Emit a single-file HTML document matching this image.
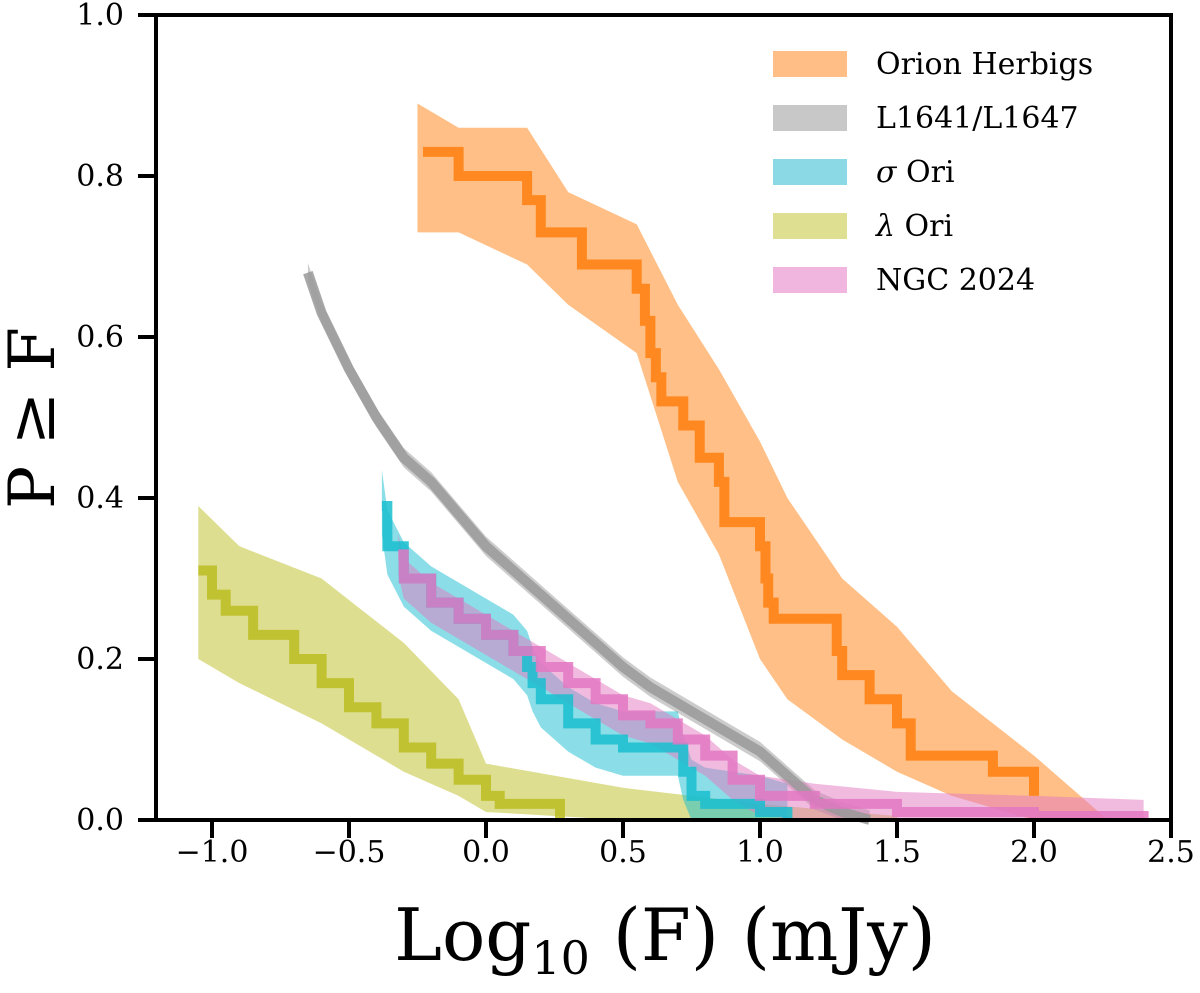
<!DOCTYPE html>
<html><head><meta charset="utf-8">
<style>
html,body{margin:0;padding:0;background:#fff;}
svg text{font-family:"DejaVu Serif","Liberation Serif",serif;}
</style></head>
<body>
<svg id="chart" width="1200" height="988" xmlns="http://www.w3.org/2000/svg">
<g id="bands"></g>
<g id="lines"></g>
<g id="axes"></g>
<g id="legend"></g>
</svg>
<script>
const xTicks=[-1.0,-0.5,0.0,0.5,1.0,1.5,2.0,2.5];
const yTicks=[0.0,0.2,0.4,0.6,0.8,1.0];
const seriesNames=["Orion Herbigs","L1641/L1647","σ Ori","λ Ori","NGC 2024"];
// Orion Herbigs
const orX=[-0.23,-0.1,0.15,0.2,0.35,0.55,0.58,0.6,0.62,0.64,0.72,0.78,0.85,0.87,1.0,1.02,1.03,1.05,1.28,1.3,1.4,1.5,1.55,1.85,2.0];
const orY=[0.83,0.80,0.77,0.73,0.69,0.66,0.62,0.58,0.55,0.52,0.49,0.45,0.42,0.37,0.34,0.30,0.27,0.25,0.21,0.18,0.15,0.12,0.08,0.06,0.03];
const orBX=[-0.25,-0.1,0.15,0.3,0.55,0.7,0.85,1.0,1.1,1.3,1.5,1.7,2.0,2.27];
const orUp=[0.89,0.86,0.86,0.78,0.74,0.64,0.56,0.47,0.40,0.30,0.24,0.16,0.08,0.0];
const orLo=[0.73,0.73,0.69,0.64,0.58,0.42,0.33,0.20,0.15,0.10,0.06,0.03,0.0,0.0];
// L1641/L1647
const grX=[-0.65,-0.6,-0.5,-0.4,-0.3,-0.2,-0.1,0.0,0.1,0.2,0.3,0.4,0.5,0.6,0.7,0.8,0.9,1.0,1.1,1.2,1.3,1.4];
const grY=[0.68,0.63,0.56,0.50,0.45,0.42,0.38,0.34,0.31,0.28,0.25,0.22,0.19,0.165,0.145,0.125,0.105,0.085,0.055,0.025,0.01,0.0];
// sigma Ori
const siX=[-0.38,-0.36,-0.3,-0.2,-0.1,0.0,0.1,0.15,0.17,0.2,0.3,0.4,0.5,0.7,0.72,0.75,0.8,1.0,1.1];
const siY=[0.39,0.34,0.30,0.27,0.25,0.23,0.21,0.19,0.17,0.15,0.12,0.10,0.09,0.09,0.06,0.03,0.02,0.01,0.0];
// lambda Ori
const laX=[-1.05,-1.0,-0.95,-0.85,-0.7,-0.6,-0.5,-0.4,-0.3,-0.2,-0.1,0.0,0.05,0.1,0.27];
const laY=[0.31,0.28,0.26,0.23,0.20,0.17,0.14,0.12,0.09,0.07,0.05,0.03,0.02,0.02,0.0];
const laBX=[-1.05,-0.9,-0.6,-0.3,-0.1,0.0,0.5,1.0,1.5];
const laUp=[0.39,0.34,0.30,0.22,0.15,0.07,0.04,0.02,0.005];
const laLo=[0.20,0.17,0.12,0.06,0.03,0.01,0.0,0.0,0.0];
// NGC 2024
const ngX=[-0.32,-0.3,-0.2,-0.1,0.0,0.1,0.2,0.3,0.4,0.5,0.6,0.7,0.8,0.9,1.0,1.2,1.5,2.0,2.4];
const ngY=[0.33,0.30,0.27,0.25,0.23,0.21,0.19,0.17,0.15,0.13,0.12,0.10,0.08,0.05,0.03,0.02,0.01,0.005,0.0];

const X=v=>486+274*v, Y=v=>820-805*v;
const NS="http://www.w3.org/2000/svg";
function mk(tag,attrs,parent){const e=document.createElementNS(NS,tag);for(const k in attrs)e.setAttribute(k,attrs[k]);parent.appendChild(e);return e;}
function stepPath(xs,ys){let d="M"+X(xs[0])+","+Y(ys[0]);for(let i=1;i<xs.length;i++){d+=" H"+X(xs[i])+" V"+Y(ys[i]);}return d;}
function linePath(xs,ys){return xs.map((x,i)=>(i?"L":"M")+X(x)+","+Y(ys[i])).join(" ");}
function bandPath(xs,up,lo){let d="M"+X(xs[0])+","+Y(up[0]);for(let i=1;i<xs.length;i++)d+=" L"+X(xs[i])+","+Y(up[i]);for(let i=xs.length-1;i>=0;i--)d+=" L"+X(xs[i])+","+Y(lo[i]);return d+"Z";}
function offs(ys,o){return ys.map(v=>Math.max(0,v+o));}
const bands=document.getElementById('bands'),lines=document.getElementById('lines');
function band(xs,up,lo,col,op,name){const p=mk('path',{d:bandPath(xs,up,lo),fill:col,'fill-opacity':op},bands);

}
function line(xs,ys,col,name,smooth){const p=mk('path',{d:smooth?linePath(xs,ys):stepPath(xs,ys),fill:'none',stroke:col,'stroke-width':10,'stroke-opacity':0.85},lines);

}
band(laBX,laUp,laLo,'#bcbd22',0.5,'lambda-ori-band');
band(orBX,orUp,orLo,'#ff7f0e',0.5,'orion-herbigs-band');
band(grX,offs(grY,0.012),offs(grY,-0.012),'#999',0.5,'l1641-band');
band(siX,offs(siY,0.045),offs(siY,-0.035),'#17becf',0.5,'sigma-ori-band');
band(ngX,offs(ngY,0.025),offs(ngY,-0.025),'#e377c2',0.5,'ngc2024-band');
line(laX,laY,'#bcbd22','lambda-ori-line');
line(orX,orY,'#ff7f0e','orion-herbigs-line');
line(grX,grY,'#999999','l1641-line',true);
line(siX,siY,'#17becf','sigma-ori-line');
line(ngX,ngY,'#e377c2','ngc2024-line');

const axes=document.getElementById('axes');
const fr=mk('rect',{x:156,y:15,width:1015,height:805,fill:'none',stroke:'#000','stroke-width':4},axes);


xTicks.forEach(v=>{mk('line',{x1:X(v),x2:X(v),y1:820,y2:838,stroke:'#000','stroke-width':4},axes);
const t=mk('text',{x:X(v),y:862,'text-anchor':'middle','font-size':30},axes);t.textContent=(v<0?"−":"")+Math.abs(v).toFixed(1);

});
yTicks.forEach(v=>{mk('line',{x1:138,x2:156,y1:Y(v),y2:Y(v),stroke:'#000','stroke-width':4},axes);
const t=mk('text',{x:124,y:Y(v)+10,'text-anchor':'end','font-size':30},axes);t.textContent=v.toFixed(1);

});
const xl=mk('text',{x:665,y:960,'text-anchor':'middle','font-size':72},axes);
xl.innerHTML='Log<tspan font-size="46" dy="14">10</tspan><tspan dy="-14"> (F) (mJy)</tspan>';


const yl=mk('text',{x:0,y:0,'text-anchor':'middle','font-size':64,transform:'translate(54,418) rotate(-90)'},axes);
yl.textContent='P ≥ F';



const legend=document.getElementById('legend');
const lcols=['#ffbe85','#c8c8c8','#8ad9e5','#dfdf91','#f1b6e0'];
const lnames=['Orion Herbigs','L1641/L1647','<tspan font-style="italic">σ</tspan> Ori','<tspan font-style="italic">λ</tspan> Ori','NGC 2024'];
lnames.forEach((n,i)=>{const y=63+54*i;
const r=mk('rect',{x:773,y:y-12,width:74,height:26,fill:lcols[i]},legend);


const t=mk('text',{x:876,y:y+11,'font-size':30},legend);t.innerHTML=n;

});
</script>
</body></html>
